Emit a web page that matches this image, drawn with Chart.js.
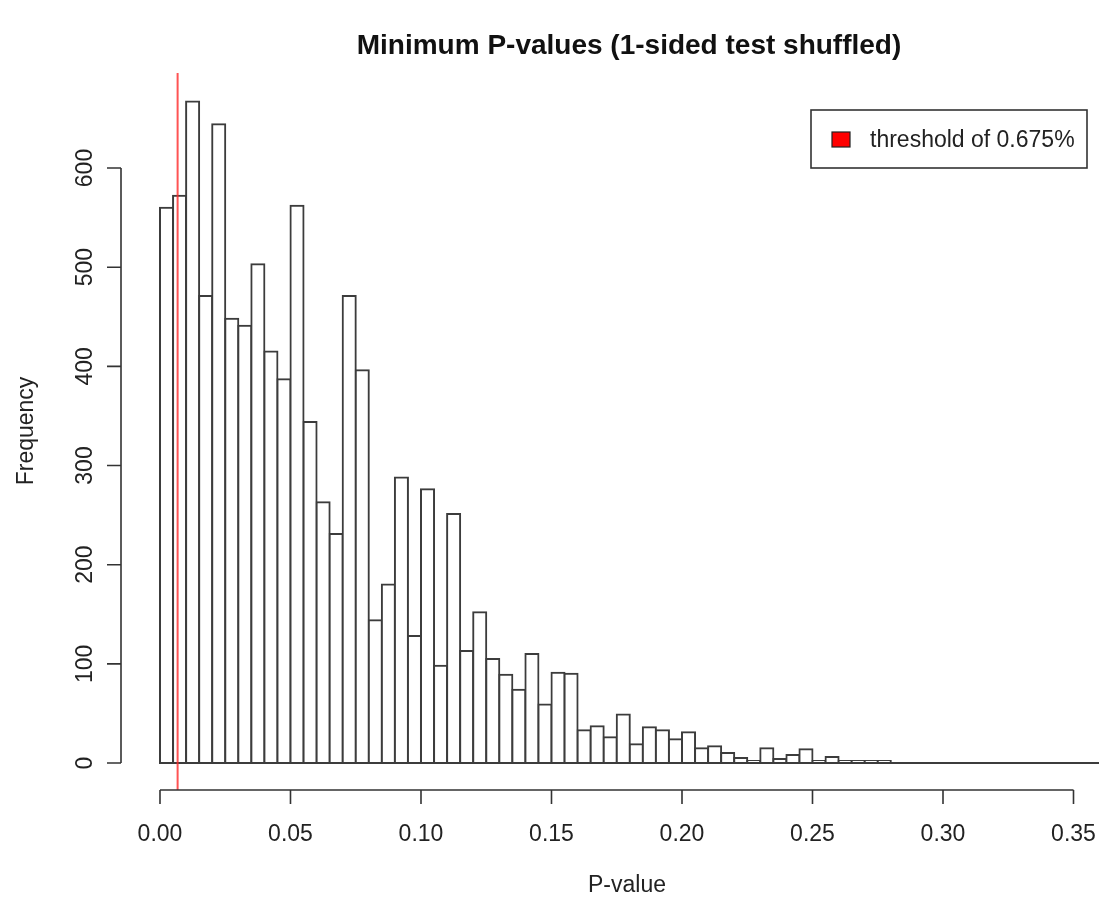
<!DOCTYPE html>
<html>
<head>
<meta charset="utf-8">
<script src="https://cdn.jsdelivr.net/npm/chart.js@4.4.1/dist/chart.umd.min.js"></script>
<style>
  body { margin: 0; background: #fff; }
  #wrap { width: 1099px; height: 903px; }
</style>
</head>
<body>
<div id="wrap"><canvas id="myChart" width="1099" height="903"></canvas></div>
<script>
// histogram breaks (width of each bin) and counts per bin, starting at 0
const binWidth = 0.005;
const counts = [
    560, 572, 667, 471, 644, 448, 441, 503, 415, 387,
    562, 344, 263, 231, 471, 396, 144, 180, 288, 128,
    276, 98, 251, 113, 152, 105, 89, 74, 110, 59,
    91, 90, 33, 37, 26, 49, 19, 36, 33, 24,
    31, 15, 17, 10, 5, 2, 15, 4, 8, 14,
    2, 6, 2, 2, 2, 2
];
const xTicks = [0, 0.05, 0.10, 0.15, 0.20, 0.25, 0.30, 0.35];
const yTicks = [0, 100, 200, 300, 400, 500, 600];
const threshold = 0.00675;
const legendLabel = 'threshold of 0.675%';
const titleText = 'Minimum P-values (1-sided test shuffled)';
const xTitle = 'P-value';
const yTitle = 'Frequency';

const fonte = '"Liberation Sans", Arial, sans-serif';

// desenha os eixos no estilo do R (separados da área dos dados)
const eixosR = {
    id: 'eixosR',
    afterDatasetsDraw(chart) {
        const ctx = chart.ctx;
        const area = chart.chartArea;
        const xs = chart.scales.x;
        const ys = chart.scales.y;
        const y0 = ys.getPixelForValue(0);

        ctx.save();
        // linha de base (barras vazias)
        ctx.strokeStyle = '#3c3c3c';
        ctx.lineWidth = 2;
        ctx.beginPath();
        ctx.moveTo(xs.getPixelForValue(0), y0);
        ctx.lineTo(area.right, y0);
        ctx.stroke();

        // linha do limiar
        const xt = xs.getPixelForValue(threshold);
        ctx.strokeStyle = 'rgba(255, 40, 40, 0.8)';
        ctx.lineWidth = 2;
        ctx.beginPath();
        ctx.moveTo(xt, area.top);
        ctx.lineTo(xt, area.bottom);
        ctx.stroke();

        ctx.strokeStyle = '#333';
        ctx.fillStyle = '#222';
        ctx.lineWidth = 1.6;
        ctx.font = '23px ' + fonte;

        // eixo x
        const xb = area.bottom;
        ctx.beginPath();
        ctx.moveTo(xs.getPixelForValue(xTicks[0]), xb);
        ctx.lineTo(xs.getPixelForValue(xTicks[xTicks.length - 1]), xb);
        xTicks.forEach(v => {
            const px = xs.getPixelForValue(v);
            ctx.moveTo(px, xb);
            ctx.lineTo(px, xb + 14);
        });
        ctx.stroke();
        ctx.textAlign = 'center';
        ctx.textBaseline = 'middle';
        xTicks.forEach(v => {
            ctx.fillText(v.toFixed(2), xs.getPixelForValue(v), 835);
        });

        // eixo y
        const xl = area.left;
        ctx.beginPath();
        ctx.moveTo(xl, ys.getPixelForValue(yTicks[0]));
        ctx.lineTo(xl, ys.getPixelForValue(yTicks[yTicks.length - 1]));
        yTicks.forEach(v => {
            const py = ys.getPixelForValue(v);
            ctx.moveTo(xl, py);
            ctx.lineTo(xl - 14, py);
        });
        ctx.stroke();
        yTicks.forEach(v => {
            ctx.save();
            ctx.translate(86, ys.getPixelForValue(v));
            ctx.rotate(-Math.PI / 2);
            ctx.fillText(String(v), 0, 0);
            ctx.restore();
        });

        // títulos
        ctx.fillText(xTitle, 627, 886);
        ctx.save();
        ctx.translate(27, 431);
        ctx.rotate(-Math.PI / 2);
        ctx.fillText(yTitle, 0, 0);
        ctx.restore();

        ctx.font = 'bold 28px ' + fonte;
        ctx.fillStyle = '#111';
        ctx.fillText(titleText, 629, 46);

        // legenda
        ctx.fillStyle = '#fff';
        ctx.fillRect(811, 110, 276, 58);
        ctx.strokeStyle = '#333';
        ctx.lineWidth = 1.6;
        ctx.strokeRect(811, 110, 276, 58);
        ctx.fillStyle = '#ff0000';
        ctx.fillRect(832, 132, 18, 15);
        ctx.lineWidth = 1.2;
        ctx.strokeStyle = '#222';
        ctx.strokeRect(832, 132, 18, 15);
        ctx.fillStyle = '#222';
        ctx.font = '23px ' + fonte;
        ctx.textAlign = 'left';
        ctx.fillText(legendLabel, 870, 141);
        ctx.restore();
    }
};

const ctx = document.getElementById('myChart').getContext('2d');
const myChart = new Chart(ctx, {
    type: 'bar',
    data: {
        datasets: [{
            label: 'P-value',
            data: counts.map((c, i) => ({ x: (i + 0.5) * binWidth, y: c })),
            backgroundColor: '#ffffff',
            borderColor: '#3c3c3c',
            borderWidth: 2,
            borderSkipped: false,
            inflateAmount: 1,
            barPercentage: 1,
            categoryPercentage: 1
        }]
    },
    options: {
        responsive: false,
        devicePixelRatio: 1,
        animation: false,
        layout: {
            padding: { top: 73, right: 0, bottom: 113, left: 121 }
        },
        plugins: {
            legend: { display: false },
            tooltip: { enabled: false },
            title: { display: false }
        },
        scales: {
            x: { type: 'linear', display: false, offset: false, min: -0.01494, max: 0.35977 },
            y: { type: 'linear', display: false, min: -27.2, max: 695.8 }
        }
    },
    plugins: [eixosR]
});
</script>
</body>
</html>
